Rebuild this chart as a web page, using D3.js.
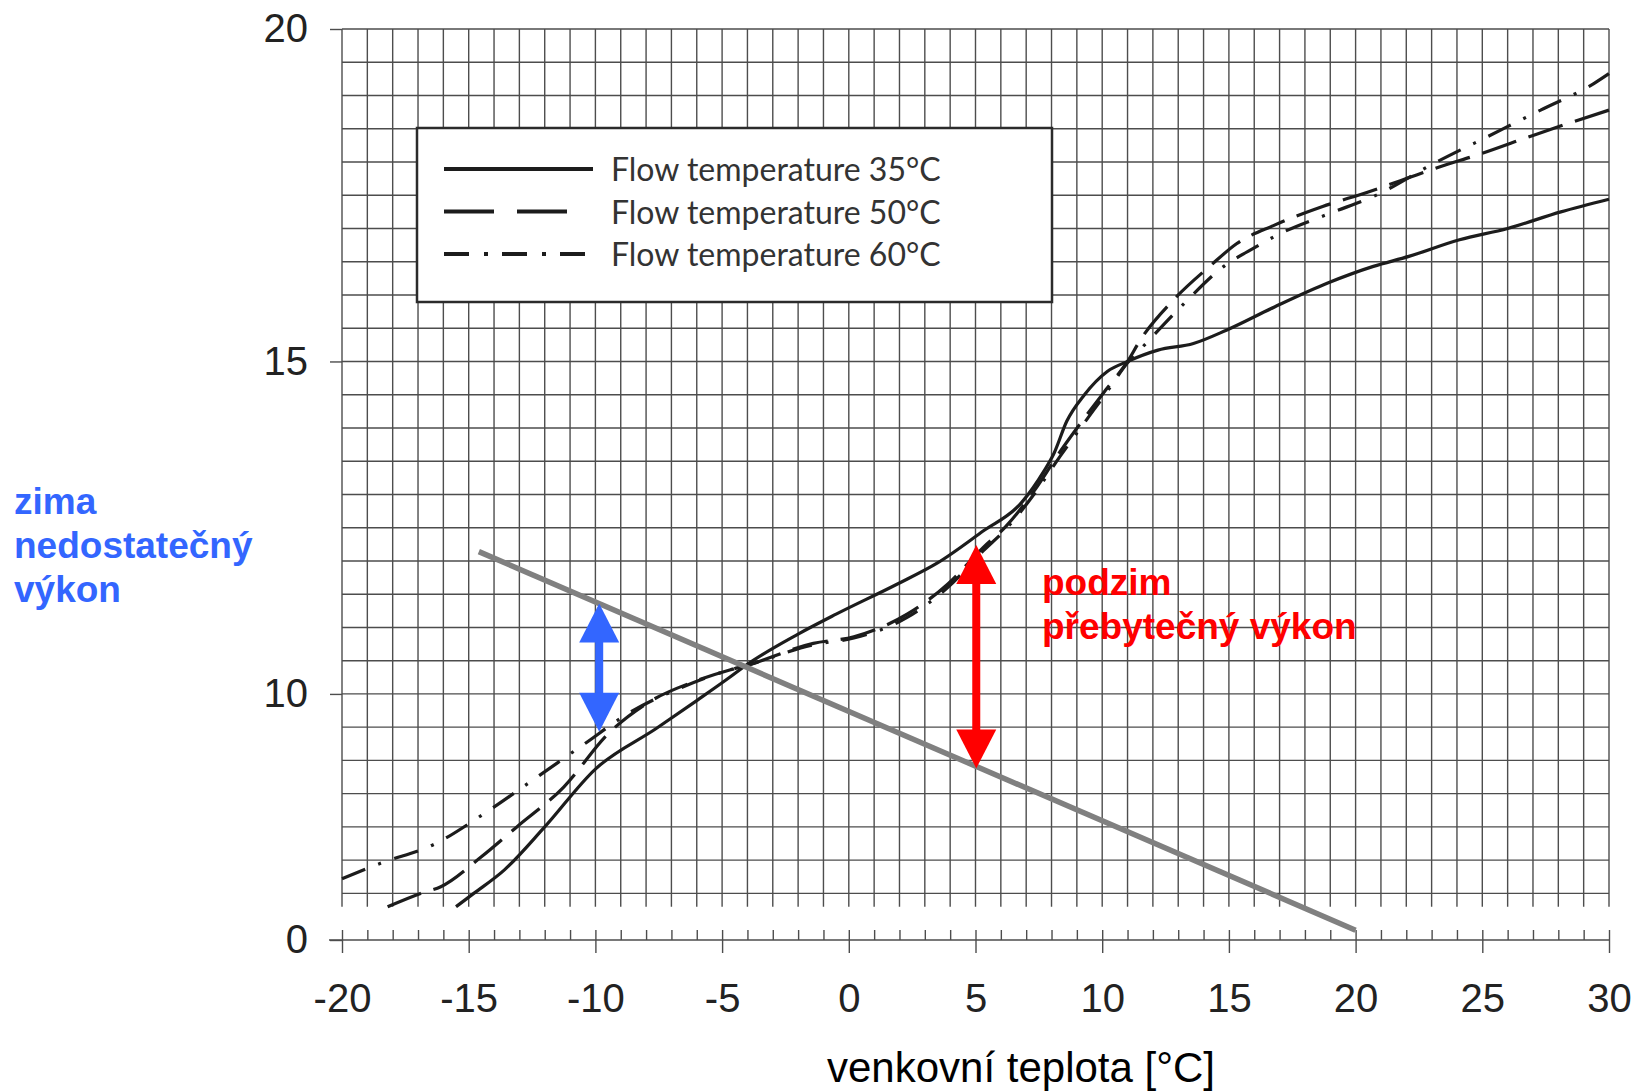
<!DOCTYPE html>
<html>
<head>
<meta charset="utf-8">
<script src="https://cdn.jsdelivr.net/npm/d3@7"></script>
<style>
  body { margin: 0; background: #fff; }
  svg { display: block; }
</style>
</head>
<body>
<div id="container"></div>
<script>
/* DATA */
const xTicks = [-20, -15, -10, -5, 0, 5, 10, 15, 20, 25, 30];
const yTicks = [0, 10, 15, 20];
const legendLabels = ["Flow temperature 35°C", "Flow temperature 50°C", "Flow temperature 60°C"];

// flow temperature 35°C
const t35 = [-15.5, -14.8, -13.6, -12.0, -10.0, -7.6, -6.0, -4.7, -4.1, -2.0, -0.5, 1.9, 3.5, 5.3, 6.8, 7.7, 8.1, 8.6, 9.3, 10.2, 11.0, 12.2, 13.6, 14.9, 16.8, 18.9, 20.7, 22.1, 24.1, 26.0, 28.1, 30.0];
const p35 = [6.8, 7.0, 7.35, 8.0, 8.87, 9.48, 9.9, 10.25, 10.42, 10.9, 11.2, 11.65, 11.97, 12.45, 12.87, 13.35, 13.62, 14.1, 14.5, 14.85, 15.0, 15.17, 15.27, 15.47, 15.82, 16.18, 16.43, 16.58, 16.83, 17.0, 17.25, 17.44];

// flow temperature 50°C
const t50 = [-18.2, -16.9, -16.1, -14.5, -13.1, -11.25, -9.5, -8.0, -6.0, -4.7, -4.1, -1.4, 0.2, 2.3, 3.9, 5.3, 6.2, 7.4, 8.35, 9.3, 10.2, 11.0, 11.5, 12.8, 14.3, 15.3, 16.8, 18.7, 20.5, 22.0, 23.1, 25.0, 27.0, 30.0];
const p50 = [6.8, 7.0, 7.1, 7.55, 8.0, 8.6, 9.4, 9.85, 10.2, 10.36, 10.42, 10.76, 10.86, 11.2, 11.65, 12.2, 12.52, 13.1, 13.65, 14.15, 14.6, 15.0, 15.32, 15.92, 16.45, 16.77, 17.05, 17.33, 17.55, 17.75, 17.9, 18.13, 18.4, 18.78];

// flow temperature 60°C
const t60 = [-20.0, -18.5, -16.3, -14.35, -12.45, -10.5, -8.6, -6.65, -4.7, -4.1, -1.4, 0.2, 2.3, 3.9, 5.3, 6.2, 7.4, 8.35, 9.3, 10.2, 11.0, 11.6, 13.1, 14.8, 16.1, 16.8, 19.0, 20.7, 23.1, 25.2, 27.3, 29.4, 30.0];
const p60 = [7.22, 7.45, 7.75, 8.21, 8.71, 9.23, 9.73, 10.09, 10.36, 10.42, 10.74, 10.84, 11.15, 11.6, 12.15, 12.48, 13.05, 13.58, 14.08, 14.55, 14.98, 15.22, 15.82, 16.43, 16.73, 16.88, 17.23, 17.48, 17.98, 18.38, 18.78, 19.18, 19.33];

// heat demand line (grey) and the two annotation arrows
const loadT = [-14.6, 20];
const loadP = [12.14, 2.0];
const winterT = -9.85, winterP = [9.43, 11.36];
const autumnT = 5.03, autumnP = [8.88, 12.24];

/* LAYOUT */
const width = 1635, height = 1092;
const gridBottom = 6.8;

const svg = d3.select("#container")
  .append("svg")
  .attr("width", width)
  .attr("height", height)
  .style("background", "#fff");

const xScale = d3.scaleLinear().domain([-20, 30]).range([342, 1609]);
// broken axis: 0 sits just below the grid, grid itself runs 6.8..20
const yScale = d3.scaleLinear().domain([0, gridBottom, 20]).range([940, 906.7, 29]);

const gridColor = "#4d4d4d";

/* GRID */
const grid = svg.append("g");
grid.selectAll(".vline")
  .data(d3.range(-20, 31))
  .join("line")
  .attr("x1", d => xScale(d)).attr("x2", d => xScale(d))
  .attr("y1", yScale(gridBottom)).attr("y2", yScale(20))
  .attr("stroke", gridColor)
  .attr("stroke-width", 1.4);

grid.selectAll(".hline")
  .data(d3.range(7, 20.01, 0.5))
  .join("line")
  .attr("x1", xScale(-20)).attr("x2", xScale(30))
  .attr("y1", d => yScale(d)).attr("y2", d => yScale(d))
  .attr("stroke", gridColor)
  .attr("stroke-width", 1.4);

/* AXES */
const yAxis = svg.append("g")
  .attr("transform", `translate(${xScale(-20)},0)`)
  .call(d3.axisLeft(yScale).tickValues(yTicks).tickSize(12).tickPadding(22));

const baseY = yScale(0);
svg.append("line")
  .attr("x1", 329).attr("x2", xScale(30))
  .attr("y1", baseY).attr("y2", baseY)
  .attr("stroke", gridColor)
  .attr("stroke-width", 1.4);

const xMinor = svg.append("g")
  .attr("transform", `translate(0,${baseY})`)
  .call(d3.axisTop(xScale).tickValues(d3.range(-20, 31)).tickSize(10).tickFormat(""));

const xAxis = svg.append("g")
  .attr("transform", `translate(0,${baseY})`)
  .call(d3.axisBottom(xScale).tickValues(xTicks).tickSize(13).tickPadding(31).tickFormat(d3.format("d")));

[yAxis, xMinor, xAxis].forEach(g => {
  g.select(".domain").remove();
  g.selectAll(".tick line").attr("stroke", gridColor).attr("stroke-width", 1.4);
  g.selectAll("text")
    .attr("font-family", "Liberation Sans, Arial, sans-serif")
    .attr("font-size", 40)
    .attr("fill", "#222");
});
xAxis.selectAll("text").text(d => d < 0 ? "-" + Math.abs(d) : d);

svg.append("text")
  .attr("x", 1021)
  .attr("y", 1082)
  .attr("text-anchor", "middle")
  .attr("font-family", "Liberation Sans, Arial, sans-serif")
  .attr("font-size", 42)
  .attr("fill", "#000")
  .text("venkovní teplota [°C]");

/* CURVES */
const line = d3.line()
  .x(d => xScale(d[0]))
  .y(d => yScale(d[1]))
  .curve(d3.curveMonotoneX);

const series = [
  {t: t35, p: p35, dash: null},
  {t: t50, p: p50, dash: "36,13"},
  {t: t60, p: p60, dash: "25,14,3,14"}
];

svg.append("g")
  .selectAll("path")
  .data(series)
  .join("path")
  .attr("d", s => line(d3.zip(s.t, s.p)))
  .attr("fill", "none")
  .attr("stroke", "#1c1c1c")
  .attr("stroke-width", 3.2)
  .attr("stroke-dasharray", s => s.dash);

/* LEGEND */
const legend = svg.append("g");
legend.append("rect")
  .attr("x", 417).attr("y", 128)
  .attr("width", 635).attr("height", 174)
  .attr("fill", "#fff")
  .attr("stroke", "#2b2b2b")
  .attr("stroke-width", 2.5);

const legendDash = [null, "50,23", "25,15,4,14"];
const legendEnd = [593, 568, 588];
legendLabels.forEach((lab, i) => {
  const cy = 169 + i * 42.5;
  legend.append("line")
    .attr("x1", 444).attr("x2", legendEnd[i])
    .attr("y1", cy).attr("y2", cy)
    .attr("stroke", "#1c1c1c")
    .attr("stroke-width", 4)
    .attr("stroke-dasharray", legendDash[i]);
  legend.append("text")
    .attr("x", 611)
    .attr("y", cy + 12)
    .attr("font-family", "Lato, sans-serif")
    .attr("font-size", 32)
    .attr("fill", "#333")
    .text(lab);
});

/* HEAT DEMAND LINE */
svg.append("path")
  .attr("d", d3.line().x(d => xScale(d[0])).y(d => yScale(d[1]))(d3.zip(loadT, loadP)))
  .attr("fill", "none")
  .attr("stroke", "#808080")
  .attr("stroke-width", 5.5);

/* ARROWS */
function arrow(t, p, color) {
  const cx = xScale(t), top = yScale(p[1]), bot = yScale(p[0]);
  const hw = 20, hh = 39, sw = 4;
  const g = svg.append("g").attr("fill", color);
  g.append("rect")
    .attr("x", cx - sw).attr("y", top + hh - 1)
    .attr("width", sw * 2).attr("height", bot - top - 2 * hh + 2);
  g.append("path").attr("d", `M${cx},${top}L${cx + hw},${top + hh}L${cx - hw},${top + hh}Z`);
  g.append("path").attr("d", `M${cx},${bot}L${cx + hw},${bot - hh}L${cx - hw},${bot - hh}Z`);
}
arrow(winterT, winterP, "#3366ff");
arrow(autumnT, autumnP, "#ff0000");

/* ANNOTATIONS */
const note = (lines, x, y0, color) => {
  lines.forEach((l, i) => {
    svg.append("text")
      .attr("x", x)
      .attr("y", y0 + i * 44)
      .attr("font-family", "Liberation Sans, Arial, sans-serif")
      .attr("font-weight", "bold")
      .attr("font-size", 37)
      .attr("fill", color)
      .text(l);
  });
};
note(["zima", "nedostatečný", "výkon"], 14, 514, "#3366ff");
note(["podzim", "přebytečný výkon"], 1042, 595, "#ff0000");
</script>
</body>
</html>
